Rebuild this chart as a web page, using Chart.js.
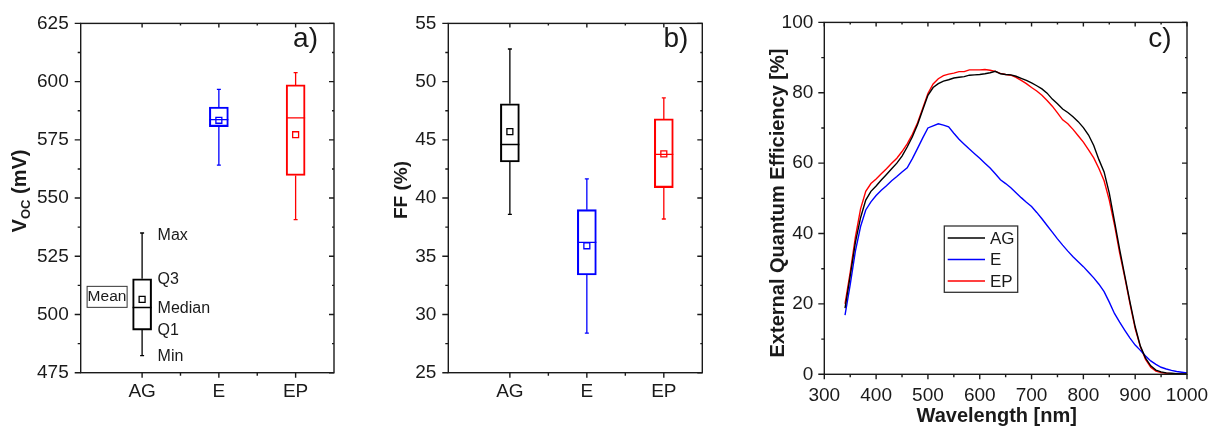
<!DOCTYPE html>
<html lang="en">
<head>
    <meta charset="UTF-8">
    <title>Voc, FF and EQE of AG / E / EP cells</title>
    <script src="https://cdn.jsdelivr.net/npm/chart.js"></script>
    <style>
        body {
            margin: 0;
            background-color: #ffffff;
        }

        #wrap {
            position: relative;
            width: 1222px;
            height: 434px;
        }

        #wrap canvas {
            position: absolute;
            top: 0;
        }

        #vocChart { left: 0; }
        #ffChart { left: 340px; }
        #eqeChart { left: 760px; }
    </style>
</head>
<body>
    <div id="wrap">
        <canvas id="vocChart" width="340" height="434"></canvas>
        <canvas id="ffChart" width="420" height="434"></canvas>
        <canvas id="eqeChart" width="462" height="434"></canvas>
    </div>

    <script>
        // ---- data ----
        const samples = ['AG', 'E', 'EP'];

        // a) Voc box plot (mV)
        const vocMin = [482.3, 564.1, 540.7];
        const vocQ1 = [493.3, 580.7, 559.7];
        const vocMedian = [503.0, 583.7, 584.4];
        const vocQ3 = [515.3, 589.1, 598.6];
        const vocMax = [535.0, 596.7, 603.9];
        const vocMean = [506.5, 583.4, 577.2];

        // b) FF box plot (%)
        const ffMin = [38.6, 28.4, 38.2];
        const ffQ1 = [43.1, 33.4, 40.9];
        const ffMedian = [44.6, 36.2, 43.75];
        const ffQ3 = [48.1, 39.0, 46.8];
        const ffMax = [52.8, 41.65, 48.6];
        const ffMean = [45.7, 35.9, 43.8];

        const statNames = ['Max', 'Q3', 'Median', 'Q1', 'Min'];

        // c) EQE curves (%)
        const wavelength = [340, 350, 360, 370, 380, 390, 400, 410, 420, 430, 440, 450, 460, 470, 480, 490,
            500, 510, 520, 530, 540, 550, 560, 570, 580, 590, 600, 610, 620, 630, 640, 650, 660, 670, 680, 690,
            700, 710, 720, 730, 740, 750, 760, 770, 780, 790, 800, 810, 820, 830, 840, 850, 860, 870, 880, 890,
            900, 910, 920, 930, 940, 950, 960, 970, 980, 990, 1000];
        const eqeAG = [18.8, 28, 37.5, 44.5, 49.5, 52, 53.5, 55.2, 56.8, 58.4, 60, 62, 64.6, 67.5, 71, 75.2,
            79.3, 81.5, 82.6, 83.3, 83.7, 84.2, 84.4, 84.6, 85, 85.1, 85.2, 85.4, 85.7, 86.1, 85.4, 85.2, 85.1, 84.7, 84.1, 83.5,
            82.8, 82, 81.1, 79.9, 78.2, 76.9, 75.4, 74.4, 73.2, 71.8, 70.1, 68, 65, 61, 57.5, 51.5, 43.5, 35.5, 28, 20.5,
            13.5, 8, 4.6, 2.4, 1.2, 0.7, 0.4, 0.3, 0.2, 0.1, 0.1];
        const eqeE = [16.8, 25.5, 35, 42, 46.7, 49, 50.8, 52.3, 53.6, 55, 56.2, 57.5, 58.7, 61.3, 64.2, 67.2,
            70, 70.6, 71.2, 70.8, 70.3, 68.5, 66.8, 65.4, 64, 62.7, 61.4, 60, 58.6, 57, 55.3, 54.2, 53, 51.6, 50.2, 48.9,
            47.7, 46, 44.2, 42.3, 40.4, 38.5, 36.7, 35, 33.4, 32, 30.6, 29, 27.4, 25.6, 23.5, 20.5, 17.3, 14.8, 12.5, 10.3,
            8.3, 6.8, 5.2, 3.8, 2.8, 2, 1.5, 1.1, 0.8, 0.6, 0.4];
        const eqeEP = [20, 29, 39, 47, 52, 54.2, 55.5, 57, 58.4, 60, 61.4, 63.3, 65.5, 68.2, 71.5, 75.6,
            79.8, 82.5, 84, 84.9, 85.3, 85.6, 86, 86, 86.5, 86.5, 86.5, 86.6, 86.4, 86.1, 85.5, 85.2, 85, 84.4, 83.5, 82.6,
            81.5, 80.5, 79.3, 77.8, 76.2, 74.3, 72.3, 71.2, 69.6, 67.8, 66, 63.8, 61.5, 58.5, 55, 49.5, 42.5, 34.5, 27.5, 20,
            13, 7.8, 4.2, 2, 0.9, 0.5, 0.3, 0.2, 0.1, 0.1, 0.1];

        // ---- styling ----
        const FONT = "'Liberation Sans', Arial, sans-serif";
        const INK = '#1a1a1a';
        const colors = ['#000000', '#0000ff', '#ff0000'];

        // frame round the plot area, ticks out on left/bottom, in on top/right
        const framePlugin = {
            id: 'frame',
            afterDraw(chart) {
                const { ctx, chartArea: a, scales: { x, y } } = chart;
                const mids = ticks => ticks.slice(1).map((t, i) => (t.value + ticks[i].value) / 2);
                ctx.save();
                ctx.strokeStyle = INK;
                ctx.lineWidth = 1.4;
                ctx.strokeRect(a.left, a.top, a.right - a.left, a.bottom - a.top);
                ctx.beginPath();
                const xMark = (v, len) => {
                    const p = x.getPixelForValue(v);
                    ctx.moveTo(p, a.bottom); ctx.lineTo(p, a.bottom + len);
                    ctx.moveTo(p, a.top); ctx.lineTo(p, a.top + len - 1);
                };
                const yMark = (v, len) => {
                    const p = y.getPixelForValue(v);
                    ctx.moveTo(a.left - len, p); ctx.lineTo(a.left, p);
                    ctx.moveTo(a.right, p); ctx.lineTo(a.right - len + 1, p);
                };
                x.ticks.forEach(t => xMark(t.value, 5));
                mids(x.ticks).forEach(v => xMark(v, 3));
                y.ticks.forEach(t => yMark(t.value, 6));
                mids(y.ticks).forEach(v => yMark(v, 3));
                ctx.stroke();
                ctx.restore();
            }
        };

        function boxPlotChart(canvasId, st, yMin, yMax, yStep, yWidth, rightPad, textPlugin) {
            // whiskers, caps and median line
            const whiskers = {
                id: 'whiskers',
                beforeDatasetsDraw(chart) {
                    const { ctx, scales: { x, y } } = chart;
                    ctx.save();
                    ctx.lineWidth = 1.3;
                    samples.forEach((s, i) => {
                        const cx = x.getPixelForValue(i);
                        ctx.strokeStyle = colors[i];
                        ctx.beginPath();
                        ctx.moveTo(cx, y.getPixelForValue(st.q3[i]));
                        ctx.lineTo(cx, y.getPixelForValue(st.max[i]));
                        ctx.moveTo(cx, y.getPixelForValue(st.q1[i]));
                        ctx.lineTo(cx, y.getPixelForValue(st.min[i]));
                        [st.max[i], st.min[i]].forEach(v => {
                            const p = y.getPixelForValue(v);
                            ctx.moveTo(cx - 2, p); ctx.lineTo(cx + 2, p);
                        });
                        const m = y.getPixelForValue(st.median[i]);
                        ctx.moveTo(cx - 9.5, m); ctx.lineTo(cx + 9.5, m);
                        ctx.stroke();
                    });
                    ctx.restore();
                }
            };

            return new Chart(document.getElementById(canvasId), {
                type: 'bar',
                data: {
                    datasets: [
                        {
                            type: 'bar',
                            data: samples.map((s, i) => ({ x: i, y: [st.q1[i], st.q3[i]] })),
                            backgroundColor: 'rgba(0,0,0,0)',
                            borderColor: colors,
                            borderWidth: 1.4,
                            borderSkipped: false,
                            barThickness: 19
                        },
                        {
                            type: 'scatter',
                            data: samples.map((s, i) => ({ x: i, y: st.mean[i] })),
                            pointStyle: 'rect',
                            pointRadius: 4.2,
                            pointBorderWidth: 1.3,
                            pointBorderColor: colors,
                            pointBackgroundColor: 'rgba(0,0,0,0)'
                        }
                    ]
                },
                options: {
                    responsive: false,
                    animation: false,
                    events: [],
                    layout: { padding: { top: 11, right: rightPad, bottom: 0, left: 0 } },
                    plugins: { legend: { display: false }, tooltip: { enabled: false } },
                    scales: {
                        x: {
                            type: 'linear',
                            min: -0.8,
                            max: 2.5,
                            offset: false,
                            afterBuildTicks: s => { s.ticks = samples.map((c, i) => ({ value: i })); },
                            ticks: {
                                callback: v => samples[v],
                                autoSkip: false,
                                maxRotation: 0,
                                padding: 8,
                                color: INK,
                                font: { family: FONT, size: 19 }
                            },
                            grid: { display: false, drawTicks: false },
                            border: { display: false },
                            afterFit: s => { s.height = 61.3; }
                        },
                        y: {
                            min: yMin,
                            max: yMax,
                            ticks: {
                                stepSize: yStep,
                                callback: v => String(v),
                                padding: 12,
                                color: INK,
                                font: { family: FONT, size: 19 }
                            },
                            grid: { display: false, drawTicks: false },
                            border: { display: false },
                            afterFit: s => { s.width = yWidth; }
                        }
                    }
                },
                plugins: [whiskers, framePlugin, textPlugin]
            });
        }

        // a) texts: V_OC title, stat names, Mean key, panel letter
        const vocText = {
            id: 'vocText',
            afterDraw(chart) {
                const { ctx, chartArea: a, scales: { x, y } } = chart;
                ctx.save();
                ctx.fillStyle = INK;
                ctx.translate(19, 191);
                ctx.rotate(-Math.PI / 2);
                const big = `bold 20px ${FONT}`, small = `bold 13px ${FONT}`;
                ctx.font = big;
                const wV = ctx.measureText('V').width;
                const wRest = ctx.measureText(' (mV)').width;
                ctx.font = small;
                const wOC = ctx.measureText('OC').width;
                let sx = -(wV + wOC + wRest) / 2;
                ctx.textBaseline = 'alphabetic';
                ctx.font = big; ctx.fillText('V', sx, 7); sx += wV;
                ctx.font = small; ctx.fillText('OC', sx, 11); sx += wOC;
                ctx.font = big; ctx.fillText(' (mV)', sx, 7);
                ctx.restore();

                ctx.save();
                ctx.fillStyle = INK;
                ctx.font = `16px ${FONT}`;
                ctx.textBaseline = 'middle';
                ctx.textAlign = 'left';
                const ag = x.getPixelForValue(0);
                [vocMax[0], vocQ3[0], vocMedian[0], vocQ1[0], vocMin[0]].forEach((v, k) => {
                    ctx.fillText(statNames[k], ag + 15.5, y.getPixelForValue(v) + (k === 0 ? 2.5 : 1));
                });
                const mp = y.getPixelForValue(vocMean[0]);
                ctx.strokeStyle = '#333';
                ctx.lineWidth = 1;
                ctx.strokeRect(ag - 55, mp - 13, 40, 21);
                ctx.font = `15.5px ${FONT}`;
                ctx.fillText('Mean', ag - 54.5, mp - 2.5);

                ctx.font = `28px ${FONT}`;
                ctx.textAlign = 'right';
                ctx.textBaseline = 'alphabetic';
                ctx.fillText('a)', a.right - 16, 47);
                ctx.restore();
            }
        };

        // b) texts
        const ffText = {
            id: 'ffText',
            afterDraw(chart) {
                const { ctx, chartArea: a } = chart;
                ctx.save();
                ctx.fillStyle = INK;
                ctx.translate(61.5, 190);
                ctx.rotate(-Math.PI / 2);
                ctx.font = `bold 19px ${FONT}`;
                ctx.textAlign = 'center';
                ctx.textBaseline = 'middle';
                ctx.fillText('FF (%)', 0, 0);
                ctx.restore();

                ctx.save();
                ctx.fillStyle = INK;
                ctx.font = `28px ${FONT}`;
                ctx.textAlign = 'right';
                ctx.fillText('b)', a.right - 14, 47);
                ctx.restore();
            }
        };

        // c) texts and legend box
        const eqeText = {
            id: 'eqeText',
            afterDraw(chart) {
                const { ctx, chartArea: a } = chart;
                ctx.save();
                ctx.fillStyle = INK;
                ctx.font = `bold 20px ${FONT}`;
                ctx.textAlign = 'center';
                ctx.textBaseline = 'middle';
                ctx.fillText('Wavelength [nm]', 236.7, 416);
                ctx.translate(18.5, 203);
                ctx.rotate(-Math.PI / 2);
                ctx.fillText('External Quantum Efficiency [%]', 0, 0);
                ctx.restore();

                ctx.save();
                ctx.fillStyle = INK;
                ctx.font = `28px ${FONT}`;
                ctx.textAlign = 'right';
                ctx.fillText('c)', a.right - 15.5, 47);

                // legend
                const lx = a.left + 120;
                ctx.strokeStyle = '#333';
                ctx.lineWidth = 1.3;
                ctx.strokeRect(lx, 226, 73.4, 66.3);
                ctx.font = `17px ${FONT}`;
                ctx.textAlign = 'left';
                ctx.textBaseline = 'middle';
                chart.data.datasets.forEach((ds, k) => {
                    const ry = 238 + k * 21.5;
                    ctx.strokeStyle = ds.borderColor;
                    ctx.lineWidth = 1.5;
                    ctx.beginPath();
                    ctx.moveTo(lx + 3.4, ry);
                    ctx.lineTo(lx + 40.7, ry);
                    ctx.stroke();
                    ctx.fillStyle = INK;
                    ctx.fillText(ds.label, lx + 45.7, ry + 1);
                });
                ctx.restore();
            }
        };

        boxPlotChart('vocChart',
            { min: vocMin, q1: vocQ1, median: vocMedian, q3: vocQ3, max: vocMax, mean: vocMean },
            475, 625, 25, 80.7, 6, vocText);

        boxPlotChart('ffChart',
            { min: ffMin, q1: ffQ1, median: ffMedian, q3: ffQ3, max: ffMax, mean: ffMean },
            25, 55, 5, 108.3, 57.7, ffText);

        new Chart(document.getElementById('eqeChart'), {
            type: 'line',
            data: {
                datasets: [
                    { label: 'AG', data: wavelength.map((w, i) => ({ x: w, y: eqeAG[i] })), borderColor: colors[0] },
                    { label: 'E', data: wavelength.map((w, i) => ({ x: w, y: eqeE[i] })), borderColor: colors[1] },
                    { label: 'EP', data: wavelength.map((w, i) => ({ x: w, y: eqeEP[i] })), borderColor: colors[2] }
                ]
            },
            options: {
                responsive: false,
                animation: false,
                events: [],
                layout: { padding: { top: 11.7, right: 35, bottom: 0, left: 0 } },
                elements: {
                    point: { radius: 0 },
                    line: { borderWidth: 1.4, tension: 0, fill: false }
                },
                plugins: { legend: { display: false }, tooltip: { enabled: false } },
                scales: {
                    x: {
                        type: 'linear',
                        min: 300,
                        max: 1000,
                        ticks: {
                            stepSize: 100,
                            callback: v => String(v),
                            autoSkip: false,
                            maxRotation: 0,
                            padding: 10,
                            color: INK,
                            font: { family: FONT, size: 19 }
                        },
                        grid: { display: false, drawTicks: false },
                        border: { display: false },
                        afterFit: s => { s.height = 59.7; }
                    },
                    y: {
                        min: 0,
                        max: 100,
                        ticks: {
                            stepSize: 20,
                            callback: v => String(v),
                            padding: 11,
                            color: INK,
                            font: { family: FONT, size: 19 }
                        },
                        grid: { display: false, drawTicks: false },
                        border: { display: false },
                        afterFit: s => { s.width = 64.3; }
                    }
                }
            },
            plugins: [framePlugin, eqeText]
        });
    </script>
</body>
</html>
